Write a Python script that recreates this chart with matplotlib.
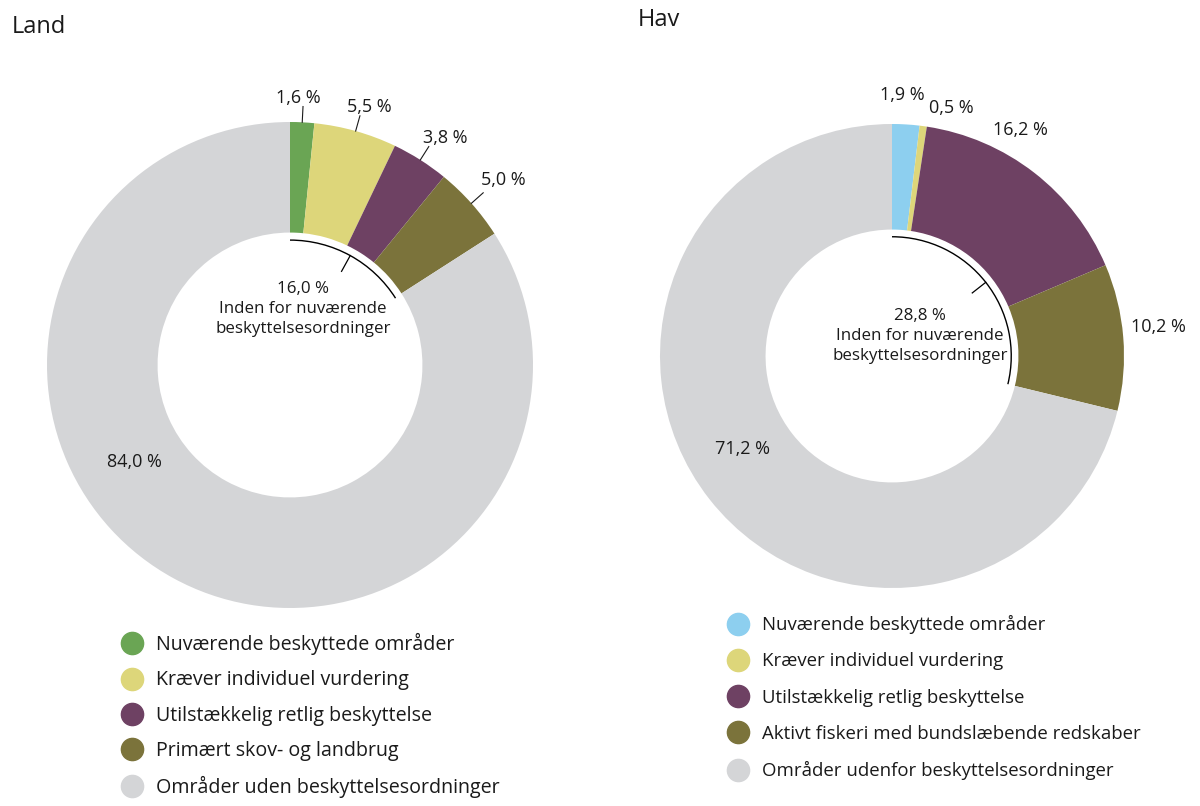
"""
Two donut charts (Land / Hav): share of area under current protection schemes.
Output: out.png (1200x806)
"""

import numpy as np
import matplotlib
matplotlib.use("Agg")
import matplotlib.pyplot as plt
from matplotlib.patches import Arc
from matplotlib.lines import Line2D

# ---- data ----
land_labels = ["Nuværende beskyttede områder", "Kræver individuel vurdering",
               "Utilstækkelig retlig beskyttelse", "Primært skov- og landbrug",
               "Områder uden beskyttelsesordninger"]
land_values = [1.6, 5.5, 3.8, 5.0, 84.0]
land_inside = 16.0

hav_labels = ["Nuværende beskyttede områder", "Kræver individuel vurdering",
              "Utilstækkelig retlig beskyttelse", "Aktivt fiskeri med bundslæbende redskaber",
              "Områder udenfor beskyttelsesordninger"]
hav_values = [1.9, 0.5, 16.2, 10.2, 71.2]
hav_inside = 28.8

inside_text = "Inden for nuværende\nbeskyttelsesordninger"

land_colors = ["#6aa554", "#ddd67a", "#6e4163", "#7b733b", "#d4d5d7"]
hav_colors = ["#8dcfef", "#ddd67a", "#6e4163", "#7b733b", "#d4d5d7"]

W, H = 1200, 806
LIM = 1.6
FONT = ["Open Sans", "DejaVu Sans"]
TXT = "#1a1a1a"


def fmt(v):
    return f"{v:.1f} %".replace(".", ",")


def donut_axes(fig, cx, cy, R):
    """axes whose data unit 1 == R pixels, centered on pixel (cx, cy) from top-left"""
    half = LIM * R
    ax = fig.add_axes([(cx - half) / W, (H - cy - half) / H, 2 * half / W, 2 * half / H])
    ax.axis("off")
    return ax


def polar(r, ang):
    # ang: degrees clockwise from 12 o'clock
    a = np.deg2rad(ang)
    return r * np.sin(a), r * np.cos(a)


def draw_donut(ax, values, colors, inside, lab_r, lab_dang, leaders, big_pos, center_pos):
    ax.pie(values, colors=colors, startangle=90, counterclock=False, radius=1.0,
           wedgeprops=dict(width=1 - 0.545, edgecolor="none", linewidth=0))
    # pie() resets the limits, so put ours back afterwards
    ax.set_xlim(-LIM, LIM)
    ax.set_ylim(-LIM, LIM)
    ax.set_aspect("equal")

    total = sum(values)
    edges = np.cumsum([0] + list(values)) / total * 360
    mids = (edges[:-1] + edges[1:]) / 2

    # small slice labels outside the ring
    for i, v in enumerate(values[:-1]):
        if leaders:
            x0, y0 = polar(1.0, mids[i])
            x1, y1 = polar(1.065, mids[i])
            ax.plot([x0, x1], [y0, y1], color=TXT, lw=0.8, clip_on=False)
        tx, ty = polar(lab_r[i], mids[i] + lab_dang[i])
        ax.text(tx, ty, fmt(v), ha="center", va="center", fontsize=13,
                color=TXT, family=FONT)

    # big grey slice label inside the ring
    bx, by = polar(big_pos[1], big_pos[0])
    ax.text(bx, by, fmt(values[-1]), ha="center", va="center", fontsize=13,
            color=TXT, family=FONT)

    # bracket arc for "inside current schemes"
    span = inside / total * 360
    ax.add_patch(Arc((0, 0), 2 * 0.514, 2 * 0.514, theta1=90 - span, theta2=90,
                     color="black", lw=1.0))
    x0, y0 = polar(0.514, span / 2)
    x1, y1 = polar(0.44, span / 2)
    ax.plot([x0, x1], [y0, y1], color="black", lw=0.9)
    ax.text(center_pos[0], center_pos[1], fmt(inside) + "\n" + inside_text,
            ha="center", va="center", fontsize=12.2, color=TXT, family=FONT,
            linespacing=1.33)


def draw_legend(fig, labels, colors, x, y, fs, spacing):
    handles = [Line2D([], [], ls="", marker="o", markersize=16, color=c) for c in colors]
    fig.legend(handles, labels, loc="upper left", bbox_to_anchor=(x / W, 1 - y / H),
               frameon=False, borderpad=0, borderaxespad=0, handlelength=1.0,
               handletextpad=0.76, labelspacing=spacing, prop=dict(family=FONT, size=fs),
               labelcolor=TXT)


def main():
    fig = plt.figure(figsize=(W / 100, H / 100), dpi=100)

    ax_land = donut_axes(fig, 290, 365, 243)
    draw_donut(ax_land, land_values, land_colors, land_inside,
               lab_r=[1.10, 1.11, 1.13, 1.16], lab_dang=[-1.2, 1.5, 1.9, 0.8],
               leaders=True, big_pos=(238, 0.755), center_pos=(0.053, 0.23))

    ax_hav = donut_axes(fig, 892, 356, 232)
    draw_donut(ax_hav, hav_values, hav_colors, hav_inside,
               lab_r=[1.125, 1.10, 1.12, 1.155], lab_dang=[-1.2, 5.8, -8.3, -1.5],
               leaders=False, big_pos=(238, 0.76), center_pos=(0.12, 0.087))

    fig.text(12 / W, 1 - 33 / H, "Land", fontsize=17, color=TXT, family=FONT,
             va="baseline")
    fig.text(638 / W, 1 - 26 / H, "Hav", fontsize=17, color=TXT, family=FONT,
             va="baseline")

    draw_legend(fig, land_labels, land_colors, 122, 633, 14.1, 0.78)
    draw_legend(fig, hav_labels, hav_colors, 729, 615, 13.4, 0.98)

    fig.savefig("out.png", dpi=100)


if __name__ == "__main__":
    main()
